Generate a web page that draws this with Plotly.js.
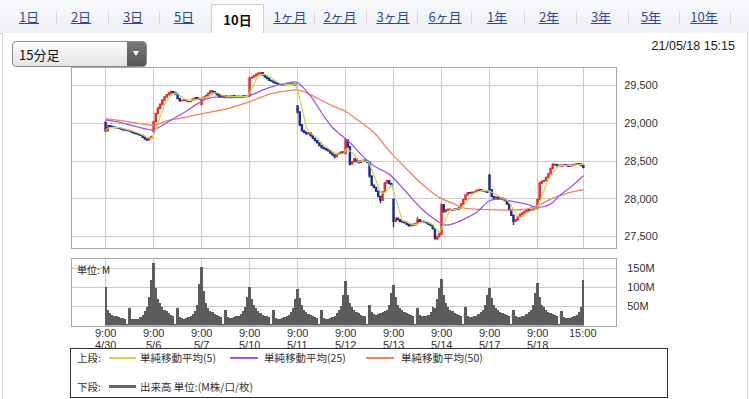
<!DOCTYPE html>
<html><head><meta charset="utf-8">
<script src="https://cdn.plot.ly/plotly-3.0.1.min.js"></script>
<style>
html,body{margin:0;padding:0;background:#fff;width:749px;height:399px;overflow:hidden;font-family:"Liberation Sans",Arial,"Noto Sans CJK JP",sans-serif;}
#tabs{position:absolute;left:0;top:0;width:749px;height:33px;background:linear-gradient(#f8f9fb,#eef0f5);border-bottom:1px solid #c8cdd8;}
.tab{position:absolute;top:9px;font-size:13px;color:#2d4a9c;text-decoration:underline;font-family:"Noto Sans CJK JP","Liberation Sans",sans-serif;line-height:16px;transform:translateX(-50%);white-space:nowrap;}
.sep{position:absolute;top:11px;width:1px;height:13px;background:#d4d8e0;}
#sel{position:absolute;left:211px;top:4px;width:51px;height:30px;background:#fff;border:1px solid #c8cdd8;border-bottom:none;border-radius:2px 2px 0 0;}
#sel span{position:absolute;left:0;width:51px;top:5px;text-align:center;font-weight:bold;font-size:13px;color:#111;font-family:"Noto Sans CJK JP",sans-serif;}
#panel{position:absolute;left:2px;top:33px;width:744px;height:380px;border:1px solid #d6d6d6;border-top:none;background:#fff;}
#dd{position:absolute;left:12px;top:41px;width:133px;height:24px;border:1px solid #8c8c8c;border-radius:4px;background:linear-gradient(#fdfdfd,#e4e4e4);overflow:hidden;}
#dd .t{position:absolute;left:6px;top:3px;font-size:13px;color:#111;font-family:"Noto Sans CJK JP",sans-serif;}
#dd .b{position:absolute;right:0;top:0;width:19px;height:24px;background:linear-gradient(#7a7a7a,#555);}
#dd .b:after{content:"";position:absolute;left:6px;top:9px;border-left:3.5px solid transparent;border-right:3.5px solid transparent;border-top:5px solid #fff;}
#date{position:absolute;right:14px;top:39px;font-size:12.5px;color:#222;}
#chart{position:absolute;left:0;top:0;width:749px;height:399px;}
#leg{position:absolute;left:70px;top:348px;width:596px;height:48px;border:1px solid #333;background:#fff;font-family:"Noto Sans CJK JP",sans-serif;font-size:10.5px;color:#333;}
#leg .lb{position:absolute;line-height:12px;white-space:nowrap;}
#leg .ln{position:absolute;height:2px;}
</style></head>
<body>
<div id="tabs"></div>
<div id="panel"></div>
<div id="dd"><span class="t">15分足</span><span class="b"></span></div>
<div id="date">21/05/18 15:15</div>
<div id="chart"></div>
<div id="leg"></div>
<script>
// ---------- data ----------
const rangeTabs = ['1日','2日','3日','5日','10日','1ヶ月','2ヶ月','3ヶ月','6ヶ月','1年','2年','3年','5年','10年'];
const selectedTab = '10日';
const days = ['4/30','5/6','5/7','5/10','5/11','5/12','5/13','5/14','5/17','5/18'];
const sessionTimes = ['9:00','9:15','9:30','9:45','10:00','10:15','10:30','10:45','11:00','11:15','11:30',
  '12:30','12:45','13:00','13:15','13:30','13:45','14:00','14:15','14:30','14:45','15:00'];

const openP = [
29010,28900,28970,28960,28950,28945,28940,28935,28925,28915,28910,28905,28895,28880,28870,28860,28850,28840,28815,28790,28780,28800,
28890,29020,29130,29200,29250,29310,29350,29380,29400,29420,29410,29390,29330,29300,29305,29310,29300,29290,29305,29325,29340,29330,
29250,29330,29350,29370,29400,29430,29420,29400,29380,29360,29355,29365,29350,29360,29355,29365,29350,29360,29355,29350,29365,29355,
29365,29600,29610,29630,29650,29665,29670,29640,29615,29595,29570,29560,29540,29530,29520,29520,29510,29515,29520,29525,29530,29520,
29230,29150,28980,28900,28880,28860,28875,28835,28800,28770,28740,28705,28680,28665,28650,28635,28605,28580,28560,28590,28605,28620,
28600,28780,28690,28460,28490,28530,28500,28480,28500,28510,28500,28480,28300,28180,28150,28100,28030,27980,28090,28210,28240,28200,
27995,27700,27740,27720,27700,27690,27680,27660,27640,27660,27650,27670,27720,27700,27700,27690,27680,27660,27645,27600,27470,27500,
27530,27920,27830,27850,27860,27855,27850,27865,27860,27880,27930,27990,28050,28080,28075,28085,28090,28110,28120,28110,28100,28095,
28310,28120,28030,28010,28020,28000,28010,27995,27975,27930,27850,27780,27700,27720,27760,27790,27810,27830,27850,27845,27850,27860,
27870,27990,28210,28230,28240,28280,28330,28400,28455,28450,28440,28445,28435,28450,28445,28430,28440,28450,28455,28465,28460,28440];
const highP = [
29025,28980,28975,28965,28960,28955,28945,28940,28935,28920,28915,28910,28900,28890,28875,28865,28855,28845,28820,28795,28810,28830,
29035,29140,29215,29265,29320,29360,29390,29415,29435,29430,29415,29395,29340,29315,29320,29315,29305,29310,29330,29350,29345,29335,
29340,29360,29380,29410,29440,29440,29425,29405,29385,29365,29370,29370,29365,29365,29370,29370,29365,29365,29360,29370,29370,29365,
29615,29625,29640,29660,29675,29685,29675,29645,29620,29600,29575,29565,29545,29535,29530,29525,29520,29525,29530,29540,29535,29525,
29240,29160,28990,28910,28890,28885,28880,28840,28810,28775,28745,28710,28690,28670,28655,28640,28610,28585,28595,28610,28625,28625,
28800,28790,28700,28500,28540,28540,28510,28510,28520,28520,28505,28485,28310,28190,28160,28110,28040,28100,28220,28255,28245,28210,
28000,27750,27750,27730,27710,27700,27690,27670,27670,27665,27680,27760,27725,27710,27710,27695,27685,27665,27650,27605,27510,27550,
27940,27925,27860,27870,27870,27865,27875,27870,27890,27940,28000,28060,28090,28090,28095,28100,28120,28130,28125,28120,28110,28100,
28330,28130,28040,28030,28030,28020,28020,28000,27985,27940,27860,27790,27730,27770,27800,27820,27840,27860,27860,27860,27870,27875,
28000,28220,28240,28255,28290,28340,28410,28470,28465,28460,28455,28450,28460,28455,28450,28450,28460,28465,28475,28475,28465,28445];
const lowP = [
28885,28890,28955,28945,28940,28935,28930,28920,28910,28905,28900,28890,28875,28865,28855,28845,28835,28810,28785,28765,28775,28795,
28880,29010,29120,29190,29240,29300,29340,29370,29390,29400,29385,29320,29290,29295,29300,29295,29285,29285,29300,29320,29325,29315,
29240,29320,29340,29360,29390,29410,29395,29375,29355,29345,29350,29345,29345,29350,29350,29345,29345,29350,29345,29345,29350,29350,
29355,29590,29600,29620,29640,29655,29635,29610,29590,29565,29555,29535,29525,29515,29510,29505,29505,29510,29515,29520,29515,29500,
29130,28960,28890,28870,28850,28855,28825,28795,28765,28735,28700,28675,28660,28645,28630,28600,28575,28535,28555,28585,28600,28605,
28590,28680,28440,28450,28480,28490,28470,28470,28490,28490,28475,28280,28170,28140,28090,28020,27940,27970,28080,28200,28190,28160,
27620,27690,27710,27690,27680,27670,27650,27630,27635,27640,27645,27665,27690,27690,27680,27670,27655,27640,27590,27460,27450,27490,
27520,27815,27820,27840,27845,27840,27845,27850,27855,27875,27925,27985,28045,28065,28070,28080,28085,28105,28100,28095,28090,28080,
28100,28020,28000,28000,27990,27995,27985,27965,27920,27840,27770,27650,27690,27710,27750,27780,27800,27825,27835,27840,27845,27850,
27860,27980,28195,28220,28230,28270,28320,28390,28440,28430,28430,28425,28430,28435,28425,28425,28435,28445,28450,28450,28435,28405];
const closeP = [
28900,28970,28960,28950,28945,28940,28935,28925,28915,28910,28905,28895,28880,28870,28860,28850,28840,28815,28790,28780,28800,28825,
29020,29130,29200,29250,29310,29350,29380,29400,29420,29410,29390,29330,29300,29305,29310,29300,29290,29305,29325,29340,29330,29320,
29330,29350,29370,29400,29430,29420,29400,29380,29360,29355,29365,29350,29360,29355,29365,29350,29360,29355,29350,29365,29355,29360,
29600,29610,29630,29650,29665,29670,29640,29615,29595,29570,29560,29540,29530,29520,29520,29510,29515,29520,29525,29530,29520,29505,
29150,28980,28900,28880,28860,28875,28835,28800,28770,28740,28705,28680,28665,28650,28635,28605,28580,28560,28590,28605,28620,28612,
28780,28690,28460,28490,28530,28500,28480,28500,28510,28500,28480,28300,28180,28150,28100,28030,27980,28090,28210,28240,28200,28170,
27700,27740,27720,27700,27690,27680,27660,27640,27660,27650,27670,27720,27700,27700,27690,27680,27660,27645,27600,27470,27500,27540,
27920,27830,27850,27860,27855,27850,27865,27860,27880,27930,27990,28050,28080,28075,28085,28090,28110,28120,28110,28100,28095,28085,
28120,28030,28010,28020,28000,28010,27995,27975,27930,27850,27780,27700,27720,27760,27790,27810,27830,27850,27845,27850,27860,27865,
27990,28210,28230,28240,28280,28330,28400,28455,28450,28440,28445,28435,28450,28445,28430,28440,28450,28455,28465,28460,28440,28415];
// volume, millions
const volumeM = [
102,40,32,28,25,24,22,21,20,18,4,47,18,16,17,18,22,28,38,50,75,120,
165,100,70,58,50,42,38,32,28,25,5,45,22,20,18,20,22,25,30,38,55,110,
155,90,60,45,38,35,30,27,25,22,4,42,22,20,20,22,24,26,30,38,50,75,
102,70,55,45,38,32,28,25,24,22,4,40,20,18,18,20,22,24,28,35,45,70,
95,72,55,42,35,30,27,25,22,20,4,42,20,18,18,20,22,26,32,40,52,80,
117,80,60,50,42,35,32,28,26,24,5,55,35,30,28,30,32,35,38,42,55,85,
107,75,55,45,40,35,32,30,28,26,5,45,28,25,24,25,28,35,50,45,70,100,
122,80,60,48,42,38,33,30,28,26,5,48,25,22,22,24,26,30,35,42,55,80,
100,72,55,45,40,35,32,30,28,25,4,42,24,22,22,24,26,30,35,42,55,85,
111,75,55,48,42,36,32,30,28,26,5,38,22,20,20,20,22,25,28,35,50,120];
// moving averages (bar number, value)
const ma25Bar = [0,7,13,19,22,28,36,43,48,55,60,66,71,75,83,87,89,92,95,98,101,104,107,112,117,123,130,138,145,153,156,161,165,170,176,180,185,193,198,204,208,214,219];
const ma25Val = [29045,29010,28966,28922,28913,29010,29143,29275,29341,29341,29341,29364,29430,29474,29532,29549,29519,29430,29320,29187,29055,28944,28866,28745,28591,28436,28326,28083,27863,27686,27651,27686,27738,27818,27973,27995,27973,27929,27884,27929,28039,28171,28304];
const ma50Bar = [0,7,13,22,28,36,43,55,60,66,75,83,88,92,98,104,110,115,123,130,138,145,153,161,165,169,178,185,193,198,204,208,214,219];
const ma50Val = [29063,29035,29010,28975,29032,29076,29121,29187,29231,29284,29386,29430,29443,29407,29320,29231,29160,29055,28878,28635,28393,28194,28017,27916,27871,27863,27854,27850,27863,27907,27995,28039,28092,28118];
const priceTicks = [27500,28000,28500,29000,29500];
const volTicks = [50,100,150];
const legendItems = ['単純移動平均(5)','単純移動平均(25)','単純移動平均(50)'];
const volLegend = '出来高 単位:(M株/口/枚)';

// ---------- header html ----------
const tabX = [29,81,133,184,237,290,340,393,445,497,549,601,651,704];
const sepX = [56,108,159,314,366,417,471,524,576,628,679,730];
const tabs = document.getElementById('tabs');
let h = '';
sepX.forEach(x => { h += `<div class="sep" style="left:${x}px"></div>`; });
h += `<div id="sel"><span>${selectedTab}</span></div>`;
rangeTabs.forEach((t, k) => { if (t !== selectedTab) h += `<div class="tab" style="left:${tabX[k]}px">${t}</div>`; });
tabs.innerHTML = h;

const leg = document.getElementById('leg');
leg.innerHTML =
 `<div class="lb" style="left:6px;top:3px">上段:</div>`+
 `<div class="ln" style="left:38px;top:8px;width:27px;background:#c3d94e"></div>`+
 `<div class="lb" style="left:69px;top:3px">${legendItems[0]}</div>`+
 `<div class="ln" style="left:159px;top:8px;width:28px;background:#a055ea"></div>`+
 `<div class="lb" style="left:193px;top:3px">${legendItems[1]}</div>`+
 `<div class="ln" style="left:295px;top:8px;width:28px;background:#f0825e"></div>`+
 `<div class="lb" style="left:330px;top:3px">${legendItems[2]}</div>`+
 `<div class="lb" style="left:6px;top:32px">下段:</div>`+
 `<div class="ln" style="left:38px;top:36px;width:27px;height:3px;background:#666"></div>`+
 `<div class="lb" style="left:69px;top:32px">${volLegend}</div>`;

// ---------- chart ----------
const nBars = closeP.length;
const idx = closeP.map((_, i) => i);
const perDay = sessionTimes.length;
const ma5 = closeP.map((_, i) => {
  const s = Math.max(0, i - 4); let t = 0;
  for (let k = s; k <= i; k++) t += closeP[k];
  return t / (i - s + 1);
});
const tickVals = days.map((_, d) => d * perDay).concat([nBars - 1]);
const tickTime = days.map(() => sessionTimes[0]).concat([sessionTimes[perDay - 1]]);
const tickDate = days.concat(['']);

const RED = '#ec2a2d', BLUE = '#1b2b8e';
const W = 749, H = 399;
const xdom = [72 / W, 616 / W];
const xr = [-15.4, 234];
const gridC = '#cbcbcb', lineC = '#a6a6a6';
const tickF = {family: '"Liberation Sans", Arial, sans-serif', size: 11, color: '#333'};

const traces = [
 {type: 'candlestick', x: idx, open: openP, high: highP, low: lowP, close: closeP,
  xaxis: 'x', yaxis: 'y', whiskerwidth: 0, hoverinfo: 'skip',
  increasing: {line: {color: RED, width: 1.4}, fillcolor: RED},
  decreasing: {line: {color: BLUE, width: 1.4}, fillcolor: BLUE}},
 {type: 'scatter', mode: 'lines', x: ma50Bar, y: ma50Val, xaxis: 'x', yaxis: 'y',
  line: {color: '#f0825e', width: 1.3, shape: 'spline'}, hoverinfo: 'skip'},
 {type: 'scatter', mode: 'lines', x: ma25Bar, y: ma25Val, xaxis: 'x', yaxis: 'y',
  line: {color: '#a055ea', width: 1.3, shape: 'spline'}, hoverinfo: 'skip'},
 {type: 'scatter', mode: 'lines', x: idx, y: ma5, xaxis: 'x', yaxis: 'y',
  line: {color: '#c3d94e', width: 1.2}, hoverinfo: 'skip'},
 {type: 'bar', x: idx, y: volumeM, xaxis: 'x2', yaxis: 'y2',
  marker: {color: '#5c5c5c', line: {width: 0}}, hoverinfo: 'skip'}
];

const annotations = [{xref: 'paper', yref: 'paper', x: 75 / W, y: 1 - 260 / H, xanchor: 'left', yanchor: 'top',
   text: '単位: M', showarrow: false, font: {family: '"Noto Sans CJK JP", sans-serif', size: 10, color: '#222'}}];
tickVals.forEach((v, k) => {
  annotations.push({xref: 'x2', yref: 'paper', x: v, y: 1 - 333 / H, xanchor: 'center', yanchor: 'middle',
    text: tickTime[k], showarrow: false, font: tickF});
  if (tickDate[k]) annotations.push({xref: 'x2', yref: 'paper', x: v, y: 1 - 344.5 / H, xanchor: 'center', yanchor: 'middle',
    text: tickDate[k], showarrow: false, font: tickF});
});

const layout = {
 width: W, height: H, margin: {l: 0, r: 0, t: 0, b: 0},
 paper_bgcolor: 'rgba(0,0,0,0)', plot_bgcolor: '#fff', showlegend: false, bargap: 0,
 xaxis: {domain: xdom, range: xr, anchor: 'y', tickvals: tickVals, showticklabels: false,
   showgrid: true, gridcolor: gridC, gridwidth: 1, showline: true, mirror: true, linecolor: lineC,
   zeroline: false, ticks: '', rangeslider: {visible: false}, fixedrange: true},
 yaxis: {domain: [1 - 248 / H, 1 - 68 / H], range: [27346, 29734], side: 'right', anchor: 'x',
   tickvals: priceTicks, tickformat: ',d', tickfont: tickF, ticks: '', ticklabelstandoff: 5,
   showgrid: true, gridcolor: gridC, showline: true, mirror: true, linecolor: lineC, zeroline: false},
 xaxis2: {domain: xdom, range: xr, anchor: 'y2', tickvals: tickVals, showticklabels: false,
   showgrid: true, gridcolor: gridC, showline: true, mirror: true, linecolor: lineC, zeroline: false,
   ticks: ''},
 yaxis2: {domain: [1 - 325.5 / H, 1 - 259 / H], range: [0, 175], side: 'right', anchor: 'x2',
   tickvals: volTicks, ticktext: volTicks.map(v => v + 'M'), tickfont: tickF, ticks: '', ticklabelstandoff: 8,
   showgrid: true, gridcolor: gridC, showline: true, mirror: true, linecolor: lineC, zeroline: false},
 annotations: annotations
};
Plotly.newPlot('chart', traces, layout, {staticPlot: true, displayModeBar: false});
</script>
</body></html>
